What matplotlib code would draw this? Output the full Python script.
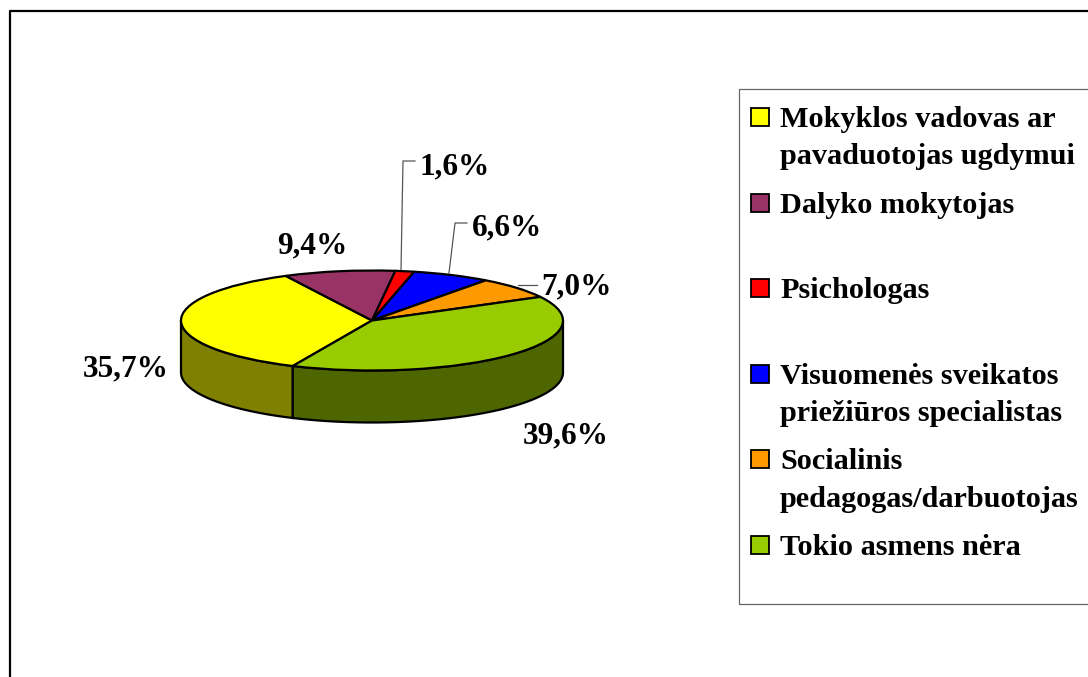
## 3D looking pie chart, drawn as a squashed pie with a darker wall below it

import numpy as np
import matplotlib
matplotlib.use('Agg')
import matplotlib.pyplot as plt
from matplotlib.colors import to_rgb
from matplotlib.patches import Rectangle

categories = ['Mokyklos vadovas ar\npavaduotojas ugdymui', 'Dalyko mokytojas', 'Psichologas',
              'Visuomenės sveikatos\npriežiūros specialistas', 'Socialinis\npedagogas/darbuotojas',
              'Tokio asmens nėra']
values = [35.7, 9.4, 1.6, 6.6, 7.0, 39.6]
colors = ['#FFFF00', '#993366', '#FF0000', '#0000FF', '#FF9900', '#99CC00']

W, H = 1088, 677
START = 245.5 # angle of the first slice edge, going clockwise
DEPTH = 1.04 # wall height in units of the squashed radius

plt.rcParams['font.family'] = ['Liberation Serif', 'DejaVu Serif']
plt.rcParams['font.weight'] = 'bold'

fig = plt.figure(figsize=(W/100, H/100), dpi=100, facecolor='white')

# pixel axes for the frame, legend and labels
bg = fig.add_axes([0, 0, 1, 1])
bg.set_xlim(0, W)
bg.set_ylim(H, 0)
bg.axis('off')
bg.plot([10, 10, W], [H, 11, 11], color='black', lw=1.6, solid_capstyle='butt')

# the pie, top surface
ax = fig.add_axes([181/W, (H-370.5)/H, 382/W, 100/H], zorder=2)
ax.pie(values, colors=colors, startangle=START, counterclock=False, radius=1,
       wedgeprops={'edgecolor': 'black', 'linewidth': 1.6, 'clip_on': False})
ax.set_aspect('auto')
ax.set_xlim(-1, 1)
ax.set_ylim(-1, 1)
ax.axis('off')

# wall, only the part of each slice that faces the viewer
fracs = np.array(values) / sum(values)
edges = START - 360 * np.concatenate([[0], np.cumsum(fracs)])
for i in range(len(values)):
    hi = edges[i] % 360 if edges[i] % 360 != 0 else 360
    lo = hi - 360 * fracs[i]
    for shift in (0, 360):
        a = max(lo + shift, 180)
        b = min(hi + shift, 360)
        if b <= a:
            continue
        t = np.radians(np.linspace(a, b, 80))
        x = np.cos(t)
        y = np.sin(t)
        dark = tuple(0.5 * c for c in to_rgb(colors[i]))
        ax.fill(np.r_[x, x[::-1]], np.r_[y, y[::-1] - DEPTH], facecolor=dark,
                edgecolor='black', lw=1.6, clip_on=False, zorder=-1)

# leader lines
for xs, ys in [([401, 403, 415], [270, 161, 161]),
               ([449, 455, 467], [273, 223, 223]),
               ([518, 537], [285, 285])]:
    bg.plot(xs, ys, color='#555555', lw=0.9)

# value labels
label_pos = [(126, 369), (312, 246), (455, 167), (507, 228), (576.5, 287), (566, 436)]
for v, (px, py) in zip(values, label_pos):
    bg.text(px, py, f'{v:.1f}'.replace('.', ',') + '%', fontsize=22.5, ha='center', va='center',
            color='black', zorder=5)

# legend box and entries
bg.add_patch(Rectangle((739, 89), W, 515, facecolor='white', edgecolor='#666666', lw=0.9))
for i, name in enumerate(categories):
    top = 117 + 85.6 * i
    bg.add_patch(Rectangle((751, top - 9), 18, 18, facecolor=colors[i], edgecolor='black', lw=1.3, zorder=3))
    bg.text(780, top - 11, name, fontsize=21.8, ha='left', va='top', linespacing=1.5, color='black', zorder=3)

fig.savefig('out.png', dpi=100)
